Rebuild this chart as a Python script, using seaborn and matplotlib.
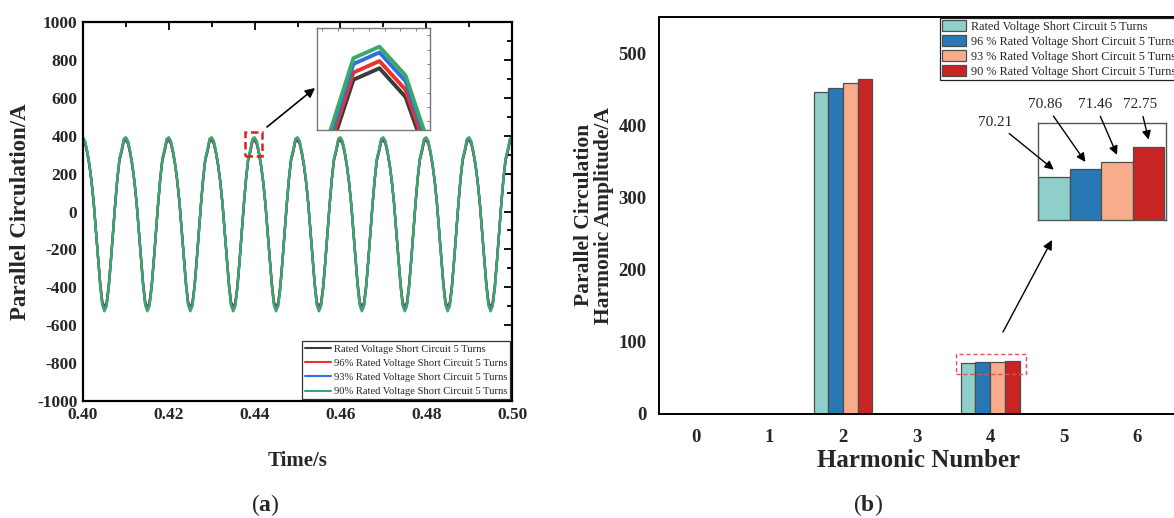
import numpy as np
import pandas as pd
import matplotlib
matplotlib.use("Agg")
import matplotlib.pyplot as plt
from matplotlib.patches import Rectangle
from matplotlib.ticker import MultipleLocator, FormatStrFormatter
import seaborn as sns

# ---------------- data ----------------
# (a) parallel circulating current, one 10 ms period sampled every 0.5 ms
series_names = [
    "Rated Voltage Short Circuit 5 Turns",
    "96% Rated Voltage Short Circuit 5 Turns",
    "93% Rated Voltage Short Circuit 5 Turns",
    "90% Rated Voltage Short Circuit 5 Turns",
]
line_colors = ["#3b3b3b", "#e8332d", "#2f6fe0", "#3aa866"]

t_start = 0.40
t_step = 0.0005
n_periods = 10

period_rated = [377, 357, 306, 240, 154, 43, -96, -240, -375, -476,
                -506, -481, -389, -255, -106, 38, 168, 269, 314, 369]
period_96 = [382, 362, 310, 244, 156, 44, -97, -244, -380, -482,
             -513, -487, -394, -258, -107, 39, 170, 273, 318, 374]
period_93 = [388, 368, 315, 247, 158, 45, -99, -247, -386, -490,
             -521, -495, -401, -262, -109, 40, 173, 277, 323, 380]
period_90 = [392, 372, 318, 250, 160, 45, -100, -250, -390, -495,
             -527, -500, -405, -265, -110, 40, 175, 280, 327, 384]

# (b) harmonic amplitudes of the circulating current
harmonic_numbers = [0, 1, 2, 3, 4, 5, 6]
bar_names = [
    "Rated Voltage Short Circuit 5 Turns",
    "96 % Rated Voltage Short Circuit 5 Turns",
    "93 % Rated Voltage Short Circuit 5 Turns",
    "90 % Rated Voltage Short Circuit 5 Turns",
]
bar_colors = ["#8ecfc9", "#2878b5", "#f8ac8c", "#c82423"]
amp_rated = [0, 0, 446.0, 0, 70.21, 0, 0]
amp_96 = [0, 0, 452.0, 0, 70.86, 0, 0]
amp_93 = [0, 0, 459.0, 0, 71.46, 0, 0]
amp_90 = [0, 0, 464.0, 0, 72.75, 0, 0]

# ---------------- tables ----------------
frames = []
for name, period in zip(series_names, [period_rated, period_96, period_93, period_90]):
    vals = list(period) * n_periods + [period[0]]
    t = t_start + t_step * np.arange(len(vals))
    frames.append(pd.DataFrame({"Time": t, "Current": vals, "Series": name}))
wave = pd.concat(frames, ignore_index=True)

bars = pd.concat(
    [pd.DataFrame({"Harmonic": harmonic_numbers, "Amplitude": a, "Case": n})
     for n, a in zip(bar_names, [amp_rated, amp_96, amp_93, amp_90])],
    ignore_index=True,
)

# ---------------- style ----------------
sns.set_theme(style="white")
plt.rcParams["font.family"] = ["Liberation Serif", "DejaVu Serif"]
plt.rcParams["axes.unicode_minus"] = False
plt.rcParams["mathtext.fontset"] = "custom"
plt.rcParams["mathtext.rm"] = "Liberation Serif"
plt.rcParams["mathtext.bf"] = "Liberation Serif:bold"

W, H = 1174, 518
fig = plt.figure(figsize=(W / 100, H / 100), dpi=100)


def box(x0, y0, x1, y1):
    return [x0 / W, 1 - y1 / H, (x1 - x0) / W, (y1 - y0) / H]


line_pal = dict(zip(series_names, line_colors))
bar_pal = dict(zip(bar_names, bar_colors))

# ---------------- (a) waveform ----------------
axL = fig.add_axes(box(83, 22, 512, 401))
sns.lineplot(data=wave, x="Time", y="Current", hue="Series", hue_order=series_names,
             palette=line_pal, estimator=None, sort=False, linewidth=1.7, ax=axL)
axL.set_xlim(0.40, 0.50)
axL.set_ylim(-1000, 1000)
axL.set_xticks(np.arange(0.40, 0.5001, 0.02))
axL.set_yticks(np.arange(-1000, 1001, 200))
axL.xaxis.set_major_formatter(FormatStrFormatter("%.2f"))
axL.xaxis.set_minor_locator(MultipleLocator(0.01))
axL.yaxis.set_minor_locator(MultipleLocator(100))
axL.tick_params(which="both", direction="in", top=True, right=True, width=1.3, color="black")
axL.tick_params(which="major", length=6, labelsize=12.5, pad=4)
axL.tick_params(which="minor", length=3.5)
for lab in axL.get_xticklabels() + axL.get_yticklabels():
    lab.set_fontweight("bold")
for s in axL.spines.values():
    s.set_linewidth(1.6)
    s.set_color("black")
axL.set_xlabel("Time/s", fontsize=15, fontweight="bold", va="center")
axL.xaxis.set_label_coords(0.5, -(461 - 401) / 379)
axL.set_ylabel("Parallel Circulation/A", fontsize=16.5, fontweight="bold", va="center")
axL.yaxis.set_label_coords((21 - 83) / 429, 0.5)

handles, labels = axL.get_legend_handles_labels()
leg = axL.legend(handles, labels, loc="lower right", bbox_to_anchor=(1.0, 0.0),
                 borderaxespad=0.15, fontsize=7.6, handlelength=2.4, handletextpad=0.3,
                 labelspacing=0.45, borderpad=0.3, frameon=True, fancybox=False,
                 framealpha=1, edgecolor="#333333")
leg.get_frame().set_linewidth(0.9)
for h in leg.get_lines():
    h.set_linewidth(1.5)

# highlighted peak and its zoomed view
axL.add_patch(Rectangle((0.4378, 295), 0.0040, 126, fill=False, ec="#e02020",
                        lw=1.8, ls=(0, (3, 1.5)), zorder=5))
axL.annotate("", xy=(315, H - 88), xycoords="figure pixels",
             xytext=(267, H - 127), textcoords="figure pixels",
             arrowprops=dict(arrowstyle="-|>", color="black", lw=1.2, mutation_scale=14,
                             shrinkA=0, shrinkB=0))

insL = fig.add_axes(box(317, 28, 430, 130))
sns.lineplot(data=wave, x="Time", y="Current", hue="Series", hue_order=series_names,
             palette=line_pal, estimator=None, sort=False, linewidth=2.8, legend=False,
             ax=insL)
insL.set_xlim(0.43880, 0.44097)
insL.set_ylim(334, 405)
insL.xaxis.set_major_locator(MultipleLocator(0.0003))
insL.yaxis.set_major_locator(MultipleLocator(10))
insL.tick_params(which="both", direction="in", top=True, right=True, length=2.5,
                 width=0.6, color="#666666", labelbottom=False, labelleft=False)
insL.set_xlabel("")
insL.set_ylabel("")
for s in insL.spines.values():
    s.set_linewidth(1.0)
    s.set_color("#777777")

# ---------------- (b) harmonic spectrum ----------------
axR = fig.add_axes(box(659, 17, 1174, 413.5))
sns.barplot(data=bars, x="Harmonic", y="Amplitude", hue="Case", hue_order=bar_names,
            palette=bar_pal, width=0.8, edgecolor="#4d4d4d", linewidth=0.9,
            saturation=1, ax=axR)
axR.set_xlim(-0.5, 6.5)
axR.set_ylim(0, 550)
axR.set_yticks(np.arange(0, 501, 100))
axR.tick_params(length=0, labelsize=13.5)
axR.tick_params(axis="x", pad=11)
axR.tick_params(axis="y", pad=9)
for lab in axR.get_xticklabels() + axR.get_yticklabels():
    lab.set_fontweight("bold")
for side, s in axR.spines.items():
    s.set_linewidth(1.4)
    s.set_color("black")
axR.spines["right"].set_visible(False)
axR.set_xlabel("Harmonic Number", fontsize=18, fontweight="bold", va="center")
axR.xaxis.set_label_coords(0.503, -(460.6 - 413.5) / 396.5)
axR.set_ylabel("Parallel Circulation\nHarmonic Amplitude/A", fontsize=15.5,
               fontweight="bold", va="center", ha="center", linespacing=0.95)
axR.yaxis.set_label_coords((594 - 659) / 515, 0.5)

handles, labels = axR.get_legend_handles_labels()
legR = axR.legend(handles, labels, loc="upper left",
                  bbox_to_anchor=((940 - 659) / 515, 1 - 1 / 396.5), borderaxespad=0,
                  fontsize=8.8, handlelength=1.9, handleheight=0.95, handletextpad=0.4,
                  labelspacing=0.2, borderpad=0.2, frameon=True, fancybox=False,
                  framealpha=1, edgecolor="#222222")
legR.get_frame().set_linewidth(0.9)

# highlight of the 4th harmonic and its enlarged view
axR.add_patch(Rectangle((3.54, 55), 0.95, 28, fill=False, ec="#e8504f", lw=1.0,
                        ls=(0, (3, 2)), zorder=5))
axR.annotate("", xy=(1052, H - 240), xycoords="figure pixels",
             xytext=(1003, H - 332), textcoords="figure pixels",
             arrowprops=dict(arrowstyle="-|>", color="black", lw=1.0, mutation_scale=14,
                             shrinkA=0, shrinkB=0))

fourth = bars[bars["Harmonic"] == 4]
insR = fig.add_axes(box(1038, 123, 1166, 220))
sns.barplot(data=fourth, x="Harmonic", y="Amplitude", hue="Case", hue_order=bar_names,
            palette=bar_pal, width=0.8, edgecolor="#4d4d4d", linewidth=0.9,
            saturation=1, legend=False, ax=insR)
insR.set_xlim(-0.4, 0.41)
insR.set_ylim(66.57, 74.78)
insR.set_xticks([])
insR.set_yticks([])
insR.set_xlabel("")
insR.set_ylabel("")
for s in insR.spines.values():
    s.set_linewidth(1.0)
    s.set_color("#555555")

bar_x = [-0.3, -0.1, 0.1, 0.3]
label_pos = [(995, 122), (1045, 104), (1095, 104), (1140, 104)]
fourth_vals = [amp_rated[4], amp_96[4], amp_93[4], amp_90[4]]
for bx, v, (px, py) in zip(bar_x, fourth_vals, label_pos):
    insR.annotate(f"{v:.2f}", xy=(bx, v + 0.62), xycoords="data",
                  xytext=(px, H - py), textcoords="figure pixels",
                  ha="center", va="center", fontsize=11, annotation_clip=False,
                  arrowprops=dict(arrowstyle="-|>", color="black", lw=1.0,
                                  mutation_scale=13, shrinkA=2, shrinkB=0))

# panel tags
fig.text(265 / W, 1 - 505 / H, r"($\mathbf{a}$)", ha="center", va="center", fontsize=17)
fig.text(867.5 / W, 1 - 505 / H, r"($\mathbf{b}$)", ha="center", va="center", fontsize=17)

fig.savefig("out.png", dpi=100)
